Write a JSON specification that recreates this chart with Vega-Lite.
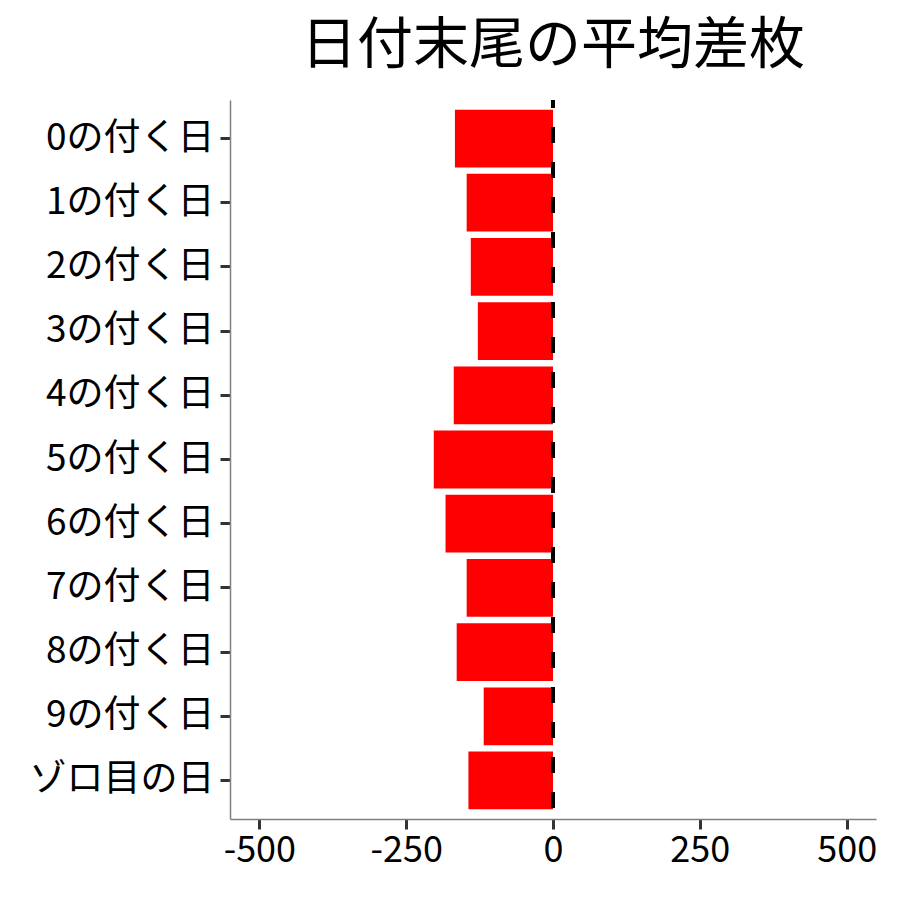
{
  "$schema": "https://vega.github.io/schema/vega-lite/v6.json",
  "autosize": "none",
  "padding": {"left": 230, "top": 100, "right": 24, "bottom": 81},
  "width": 646,
  "height": 719,
  "background": "white",
  "title": {
    "text": "日付末尾の平均差枚",
    "fontSize": 56,
    "font": "Noto Sans CJK JP",
    "fontWeight": "normal",
    "color": "black",
    "anchor": "middle",
    "frame": "group",
    "baseline": "bottom",
    "offset": -33
  },
  "config": {
    "view": {"stroke": null},
    "font": "Noto Sans CJK JP",
    "axis": {
      "grid": false,
      "title": null,
      "labelFont": "Noto Sans CJK JP",
      "labelFontSize": 36,
      "labelColor": "black",
      "labelLimit": 0,
      "domainColor": "#7f7f7f",
      "domainWidth": 1.5,
      "tickColor": "#333333",
      "tickWidth": 3,
      "tickSize": 10
    }
  },
  "data": {
    "values": [
      {"day": "0の付く日", "diff": -167},
      {"day": "1の付く日", "diff": -147},
      {"day": "2の付く日", "diff": -140},
      {"day": "3の付く日", "diff": -128},
      {"day": "4の付く日", "diff": -169},
      {"day": "5の付く日", "diff": -203},
      {"day": "6の付く日", "diff": -183},
      {"day": "7の付く日", "diff": -147},
      {"day": "8の付く日", "diff": -164},
      {"day": "9の付く日", "diff": -118},
      {"day": "ゾロ目の日", "diff": -144}
    ]
  },
  "layer": [
    {
      "mark": {"type": "bar", "color": "#ff0000"},
      "encoding": {
        "y": {
          "field": "day",
          "type": "nominal",
          "sort": null,
          "scale": {"paddingInner": 0.1, "paddingOuter": 0.15},
          "axis": {"labelPadding": 6, "labelFontSize": 37, "labelLimit": 0}
        },
        "x": {
          "field": "diff",
          "type": "quantitative",
          "scale": {"domain": [-550, 550], "nice": false, "zero": false},
          "axis": {
            "values": [-500, -250, 0, 250, 500],
            "labelPadding": 4,
            "labelExpr": "datum.value < 0 ? '-' + abs(datum.value) : '' + datum.value"
          }
        }
      }
    },
    {
      "mark": {
        "type": "rule",
        "color": "black",
        "strokeWidth": 4,
        "strokeDash": [16, 19],
        "strokeDashOffset": 8
      },
      "encoding": {
        "x": {"datum": 0, "type": "quantitative"}
      }
    }
  ]
}
